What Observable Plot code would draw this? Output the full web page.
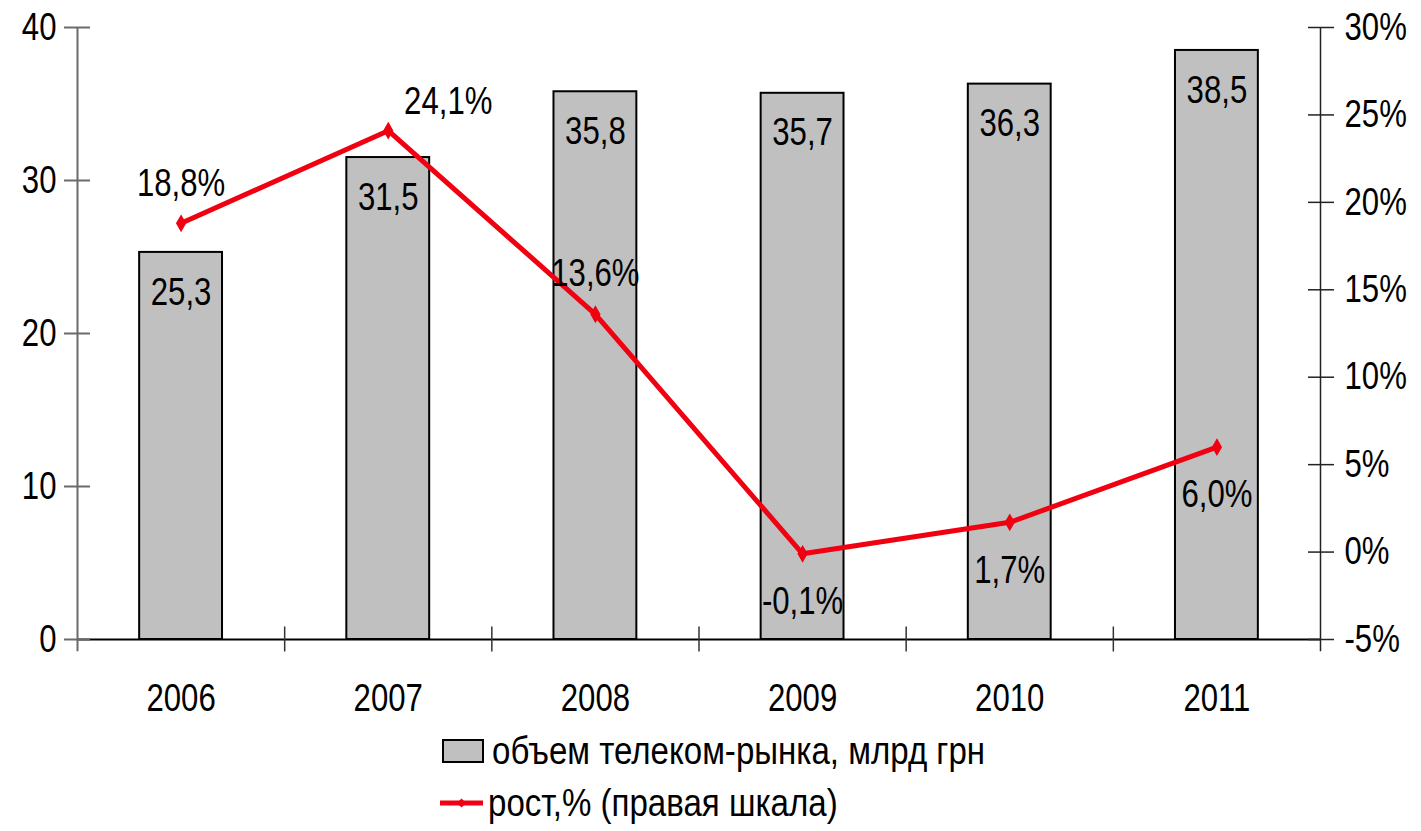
<!DOCTYPE html>
<html>
<head>
<meta charset="utf-8">
<script src="https://cdn.jsdelivr.net/npm/d3@7"></script>
<script src="https://cdn.jsdelivr.net/npm/@observablehq/plot@0.6"></script>
<style>
  body { margin: 0; background: #fff; }
  #wrap { position: relative; width: 1421px; height: 831px; overflow: hidden; }
  .lg { position: absolute; font-family: "Liberation Sans", Arial, sans-serif; font-size: 38px; color: #000; white-space: nowrap; line-height: 1; display: flex; align-items: center; }
  .lg span { display: inline-block; transform: scaleX(0.87); transform-origin: left center; }
</style>
</head>
<body>
<div id="wrap"></div>
<script>
const years = ["2006", "2007", "2008", "2009", "2010", "2011"];
const marketVolume = [25.3, 31.5, 35.8, 35.7, 36.3, 38.5];
const growthPct = [18.8, 24.1, 13.6, -0.1, 1.7, 6.0];
const leftTicks = [0, 10, 20, 30, 40];
const rightTicks = [-5, 0, 5, 10, 15, 20, 25, 30];
const seriesNames = ["объем телеком-рынка, млрд грн", "рост,% (правая шкала)"];

const data = years.map((y, i) => ({year: y, i, value: marketVolume[i], growth: growthPct[i]}));

// map right-scale (%) to left-scale units
const R0 = -5, R1 = 30, L0 = 0, L1 = 40;
const toLeft = g => L0 + (g - R0) * (L1 - L0) / (R1 - R0);
const fmt = v => v.toFixed(1).replace(".", ",");

const FONT = '"Liberation Sans", Arial, sans-serif';
const RED = "#f00010";

const above = d => d.year === "2006" || d.year === "2008";
const is2007 = d => d.year === "2007";
const below = d => d.growth < 10;

const chart = Plot.plot({
  width: 1421,
  height: 720,
  marginLeft: 77,
  marginRight: 101,
  marginTop: 27,
  marginBottom: 81,
  style: {fontFamily: FONT, fontSize: "38px", color: "#000", background: "#fff", overflow: "visible"},
  x: {type: "linear", domain: [0, years.length], axis: null},
  y: {domain: [L0, L1], axis: null},
  marks: [
    // bars
    Plot.rectY(data, {x1: d => d.i + 0.3, x2: d => d.i + 0.7, y: "value", fill: "#c0c0c0", stroke: "#000", strokeWidth: 2}),
    // x axis line
    Plot.ruleY([0], {stroke: "#000", strokeWidth: 2}),
    // category boundary ticks
    Plot.axisX({ticks: [1, 2, 3, 4, 5], tickSize: 25, dy: -12.5, tickFormat: () => "", label: null, stroke: "#333", strokeWidth: 1.5}),
    // y axis lines
    Plot.ruleX([0], {y1: -0.8, y2: L1, stroke: "#6a6a6a", strokeWidth: 2}),
    Plot.ruleX([years.length], {y1: -0.8, y2: L1, stroke: "#222", strokeWidth: 1.5}),
    // left ticks (crossing)
    Plot.axisY({anchor: "left", ticks: leftTicks, tickSize: 26, dx: 13, tickFormat: () => "", label: null, stroke: "#6a6a6a", strokeWidth: 2}),
    Plot.axisY({anchor: "left", ticks: leftTicks, tickSize: 0, tickPadding: 21, tickFormat: d => String(d), label: null, fill: "#000"}),
    // right ticks (crossing)
    Plot.axisY(rightTicks, {anchor: "right", y: d => toLeft(d), tickSize: 26, dx: -13, text: () => "", label: null, stroke: "#222", strokeWidth: 1.5}),
    Plot.axisY(rightTicks, {anchor: "right", y: d => toLeft(d), tickSize: 0, tickPadding: 24, text: d => d + "%", label: null, fill: "#000"}),
    // x labels
    Plot.axisX(years, {x: (d, i) => i + 0.5, text: d => d, tickSize: 0, tickPadding: 45, label: null, fill: "#000"}),
    // bar labels
    Plot.text(data, {x: d => d.i + 0.5, y: "value", dy: 40, text: d => fmt(d.value), fill: "#000"}),
    // growth line
    Plot.line(data, {x: d => d.i + 0.5, y: d => toLeft(d.growth), stroke: RED, strokeWidth: 5}),
    Plot.dot(data, {x: d => d.i + 0.5, y: d => toLeft(d.growth), symbol: "diamond", r: 4.5, fill: RED, stroke: RED}),
    // growth labels
    Plot.text(data.filter(above), {x: d => d.i + 0.5, y: d => toLeft(d.growth), dy: -40, text: d => fmt(d.growth) + "%", fill: "#000"}),
    Plot.text(data.filter(is2007), {x: d => d.i + 0.5, y: d => toLeft(d.growth), dx: 60, dy: -29, text: d => fmt(d.growth) + "%", fill: "#000"}),
    Plot.text(data.filter(below), {x: d => d.i + 0.5, y: d => toLeft(d.growth), dy: 48, text: d => fmt(d.growth) + "%", fill: "#000"})
  ]
});

// narrow the glyphs horizontally (the reference uses a compressed Arial look)
d3.select(chart).selectAll("text").each(function () {
  const t = this.getAttribute("transform");
  if (t) this.setAttribute("transform", t + " scale(0.82,1)");
});

const wrap = document.getElementById("wrap");
wrap.appendChild(chart);

// legend
const lg1 = document.createElement("div");
lg1.className = "lg";
lg1.style.left = "442px"; lg1.style.top = "732px";
lg1.innerHTML = `<svg width="42" height="24" style="margin-right:8px;flex:none"><rect x="1" y="1" width="40" height="22" fill="#c0c0c0" stroke="#000" stroke-width="2"/></svg><span>${seriesNames[0]}</span>`;
wrap.appendChild(lg1);

const lg2 = document.createElement("div");
lg2.className = "lg";
lg2.style.left = "440px"; lg2.style.top = "784px";
lg2.innerHTML = `<svg width="43" height="12" style="margin-right:5px;flex:none"><line x1="0" y1="6" x2="43" y2="6" stroke="${RED}" stroke-width="5"/><path d="M21.5 1.5 L26 6 L21.5 10.5 L17 6 Z" fill="${RED}"/></svg><span>${seriesNames[1]}</span>`;
wrap.appendChild(lg2);
</script>
</body>
</html>
